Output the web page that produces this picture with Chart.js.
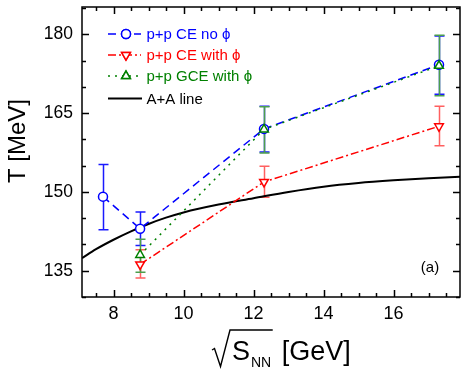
<!DOCTYPE html>
<html>
<head>
<meta charset="utf-8">
<script src="https://cdn.jsdelivr.net/npm/chart.js@4.4.1/dist/chart.umd.min.js"></script>
<style>
  body { margin: 0; background: #fff; }
  #wrap { width: 467px; height: 372px; }
</style>
</head>
<body>
<div id="wrap"><canvas id="c" width="467" height="372"></canvas></div>
<script>
// beam energies (GeV)
const energiesNoPhi = [7.7, 8.76, 12.3, 17.3];
const energiesPhi = [8.76, 12.3, 17.3];

// p+p CE no phi
const ceNoPhi = [149.1, 143.0, 162.0, 174.2];
const ceNoPhiLo = [142.8, 139.8, 157.6, 168.6];
const ceNoPhiHi = [155.2, 146.2, 166.3, 179.7];

// p+p CE with phi
const cePhi = [136.2, 151.9, 162.5];
const cePhiLo = [133.6, 149.0, 158.8];
const cePhiHi = [139.0, 154.9, 166.3];

// p+p GCE with phi
const gcePhi = [138.0, 161.9, 174.0];
const gcePhiLo = [134.7, 157.4, 168.3];
const gcePhiHi = [141.0, 166.2, 179.8];

// A+A freeze-out line
const aaEnergy = [7.1, 7.5, 8.0, 8.5, 9.0, 9.5, 10.0, 11.0, 12.0, 13.0, 14.0, 15.0, 16.0, 17.0, 17.9];
const aaTemp = [137.4, 139.1, 140.9, 142.5, 143.9, 145.1, 146.1, 147.6, 148.8, 150.0, 151.0, 151.7, 152.2, 152.6, 152.9];

const xLabels = [8, 10, 12, 14, 16];
const yLabels = [135, 150, 165, 180];

const BLUE = '#0000ff', RED = '#ff0000', GREEN = '#008000';
const FONT = '"Liberation Sans", Arial, sans-serif';

const pts = (xs, ys) => xs.map((x, i) => ({ x: x, y: ys[i] }));

const errSets = [
  { xs: energiesNoPhi, lo: ceNoPhiLo, hi: ceNoPhiHi, color: '#1a1aff' },
  { xs: energiesPhi, lo: cePhiLo, hi: cePhiHi, color: '#ff6060' },
  { xs: energiesPhi, lo: gcePhiLo, hi: gcePhiHi, color: '#4c9f4c' }
];

const legendRows = [
  { text: 'p+p CE no ϕ', color: BLUE, dash: [8, 5], style: 'circle', rot: 0 },
  { text: 'p+p CE with ϕ', color: RED, dash: [8, 3, 2, 3], style: 'triangle', rot: 180 },
  { text: 'p+p GCE with ϕ', color: GREEN, dash: [2, 5], style: 'triangle', rot: 0 },
  { text: 'A+A line', color: '#000', dash: [], style: null, rot: 0 }
];

// error bars, drawn under the markers
const errorBars = {
  id: 'errorBars',
  beforeDatasetsDraw(chart) {
    const ctx = chart.ctx, xs = chart.scales.x, ys = chart.scales.y;
    ctx.save();
    ctx.lineWidth = 1.5;
    errSets.forEach(s => {
      ctx.strokeStyle = s.color;
      s.xs.forEach((e, i) => {
        const px = Math.round(xs.getPixelForValue(e)) + 0.5;
        const p1 = ys.getPixelForValue(s.lo[i]);
        const p2 = ys.getPixelForValue(s.hi[i]);
        ctx.beginPath();
        ctx.moveTo(px, p1); ctx.lineTo(px, p2);
        ctx.moveTo(px - 5, p1); ctx.lineTo(px + 5, p1);
        ctx.moveTo(px - 5, p2); ctx.lineTo(px + 5, p2);
        ctx.stroke();
      });
    });
    ctx.restore();
  }
};

// frame, inward ticks, titles, legend, panel tag
const decor = {
  id: 'decor',
  afterDraw(chart) {
    const ctx = chart.ctx, a = chart.chartArea;
    const xs = chart.scales.x, ys = chart.scales.y;
    ctx.save();
    ctx.setLineDash([]);
    ctx.strokeStyle = '#000';
    ctx.lineWidth = 1.5;
    ctx.strokeRect(a.left, a.top, a.right - a.left, a.bottom - a.top);

    ctx.lineWidth = 1.5;
    ctx.beginPath();
    for (let k = Math.ceil(xs.min * 2); k <= Math.floor(xs.max * 2); k++) {
      const v = k / 2;
      const len = (k % 4 === 0) ? 7 : 4;
      const px = Math.round(xs.getPixelForValue(v)) + 0.5;
      ctx.moveTo(px, a.bottom); ctx.lineTo(px, a.bottom - len);
      ctx.moveTo(px, a.top); ctx.lineTo(px, a.top + len);
    }
    for (let k = Math.ceil(ys.min / 5); k <= Math.floor(ys.max / 5); k++) {
      const v = k * 5;
      const len = (v % 15 === 0) ? 7 : 4;
      const py = Math.round(ys.getPixelForValue(v)) + 0.5;
      ctx.moveTo(a.left, py); ctx.lineTo(a.left + len, py);
      ctx.moveTo(a.right, py); ctx.lineTo(a.right - len, py);
    }
    ctx.stroke();

    // y title
    ctx.fillStyle = '#000';
    ctx.save();
    ctx.translate(18, 141);
    ctx.rotate(-Math.PI / 2);
    ctx.font = '24px ' + FONT;
    ctx.textAlign = 'center';
    ctx.textBaseline = 'middle';
    ctx.fillText('T [MeV]', 0, 0);
    ctx.restore();

    // x title: sqrt(S_NN) [GeV]
    const x0 = (a.left + a.right) / 2 - 59;
    const base = 360;
    ctx.font = '27px ' + FONT;
    ctx.textAlign = 'left';
    ctx.textBaseline = 'alphabetic';
    const sX = x0 + 20;
    ctx.fillText('S', sX, base);
    const sW = ctx.measureText('S').width;
    ctx.font = '14px ' + FONT;
    const nX = sX + sW + 1;
    ctx.fillText('NN', nX, base + 6.5);
    const nEnd = nX + ctx.measureText('NN').width;
    ctx.font = '27px ' + FONT;
    ctx.fillText('[GeV]', nEnd + 10.5, base);
    ctx.lineWidth = 1.4;
    ctx.beginPath();
    ctx.moveTo(x0, base - 10);
    ctx.lineTo(x0 + 2.5, base - 11.5);
    ctx.lineTo(x0 + 8.5, base + 6.5);
    ctx.lineTo(x0 + 18, base - 30);
    ctx.lineTo(nEnd + 1.5, base - 30);
    ctx.stroke();

    // legend
    const rowY = [34, 55, 76, 98.5];
    legendRows.forEach((r, i) => {
      const y = rowY[i];
      ctx.strokeStyle = r.color;
      ctx.lineWidth = r.style ? 1.5 : 2;
      ctx.setLineDash(r.dash);
      ctx.beginPath();
      ctx.moveTo(108, y);
      ctx.lineTo(r.style ? 141 : 142, y);
      ctx.stroke();
      ctx.setLineDash([]);
      if (r.style) {
        ctx.fillStyle = '#fff';
        Chart.helpers.drawPoint(ctx, {
          pointStyle: r.style, rotation: r.rot, radius: r.style === 'circle' ? 4.5 : 5,
          borderWidth: 1.5
        }, 126, y);
        ctx.fill();
        ctx.stroke();
      }
      ctx.fillStyle = r.color;
      ctx.font = '15px ' + FONT;
      ctx.textBaseline = 'middle';
      ctx.fillText(r.text, 146.5, y + 1);
    });

    ctx.fillStyle = '#000';
    ctx.font = '15px ' + FONT;
    ctx.textAlign = 'center';
    ctx.fillText('(a)', 430, 268);
    ctx.restore();
  }
};

new Chart(document.getElementById('c'), {
  type: 'scatter',
  data: {
    datasets: [
      {
        label: 'p+p GCE with ϕ',
        data: pts(energiesPhi, gcePhi),
        showLine: true,
        borderColor: GREEN,
        borderWidth: 1.5,
        borderDash: [2, 5],
        pointStyle: 'triangle',
        pointRadius: 5,
        pointBorderWidth: 1.5,
        pointBackgroundColor: '#fff',
        pointBorderColor: GREEN,
        order: 0
      },
      {
        label: 'p+p CE with ϕ',
        data: pts(energiesPhi, cePhi),
        showLine: true,
        borderColor: RED,
        borderWidth: 1.5,
        borderDash: [8, 3, 2, 3],
        pointStyle: 'triangle',
        rotation: 180,
        pointRadius: 5,
        pointBorderWidth: 1.5,
        pointBackgroundColor: '#fff',
        pointBorderColor: RED,
        order: 1
      },
      {
        label: 'p+p CE no ϕ',
        data: pts(energiesNoPhi, ceNoPhi),
        showLine: true,
        borderColor: BLUE,
        borderWidth: 1.5,
        borderDash: [8, 5],
        pointStyle: 'circle',
        pointRadius: 4.5,
        pointBorderWidth: 1.5,
        pointBackgroundColor: '#fff',
        pointBorderColor: BLUE,
        order: 2
      },
      {
        label: 'A+A line',
        data: pts(aaEnergy, aaTemp),
        showLine: true,
        borderColor: '#000',
        borderWidth: 2,
        pointRadius: 0,
        cubicInterpolationMode: 'monotone',
        order: 3
      }
    ]
  },
  options: {
    responsive: false,
    animation: false,
    layout: { padding: { top: 7, right: 7, left: 0, bottom: 0 } },
    plugins: { legend: { display: false }, tooltip: { enabled: false } },
    scales: {
      x: {
        type: 'linear',
        min: 7.1,
        max: 17.9,
        afterFit: s => { s.height = 75; s.paddingLeft = 0; s.paddingRight = 0; },
        grid: { display: false, drawTicks: false },
        border: { display: false },
        ticks: {
          stepSize: 0.5,
          maxTicksLimit: 100,
          autoSkip: false,
          maxRotation: 0,
          padding: 6,
          color: '#000',
          font: { family: FONT, size: 18 },
          callback: v => xLabels.includes(v) ? String(v) : ''
        }
      },
      y: {
        type: 'linear',
        min: 130,
        max: 185.2,
        afterFit: s => { s.width = 82; s.paddingTop = 0; s.paddingBottom = 0; },
        grid: { display: false, drawTicks: false },
        border: { display: false },
        ticks: {
          stepSize: 5,
          maxTicksLimit: 100,
          autoSkip: false,
          padding: 9,
          color: '#000',
          font: { family: FONT, size: 17.5 },
          callback: v => yLabels.includes(v) ? String(v) : ''
        }
      }
    }
  },
  plugins: [errorBars, decor]
});
</script>
</body>
</html>
